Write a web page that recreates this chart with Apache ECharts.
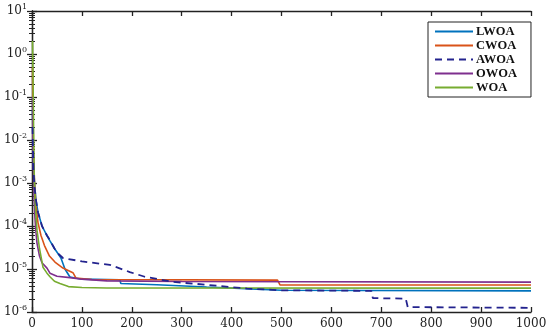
<!DOCTYPE html>
<html>
<head>
<meta charset="utf-8">
<script src="https://cdn.jsdelivr.net/npm/echarts@6/dist/echarts.min.js"></script>
<style>
  html, body { margin: 0; padding: 0; background: #fff; }
  #main { width: 550px; height: 335px; }
</style>
</head>
<body>
<div id="main"></div>
<script>
// convergence curves: [iteration, best fitness]
const names = ['LWOA', 'CWOA', 'AWOA', 'OWOA', 'WOA']
const colors = ['#0072BD', '#D95319', '#23238E', '#7E2F8E', '#77AC30']
const xTicks = [0, 100, 200, 300, 400, 500, 600, 700, 800, 900, 1000]

const lwoa = [[1, 0.05], [3, 3e-3], [5, 1e-3], [8, 4e-4], [12, 2.1e-4], [20, 1e-4], [30, 6e-5], [36, 4.5e-5],
  [45, 3e-5], [52, 2.3e-5], [58, 1.8e-5], [66, 1e-5], [76, 6.5e-6], [100, 5.8e-6], [176, 5.6e-6],
  [178, 4.6e-6], [250, 4.3e-6], [350, 3.8e-6], [450, 3.4e-6], [500, 3.2e-6], [1000, 3.1e-6]]
const cwoa = [[1, 0.5], [2, 0.05], [3, 5e-3], [5, 1e-3], [8, 3e-4], [12, 1.2e-4], [18, 6e-5], [25, 3.5e-5],
  [35, 2e-5], [46, 1.45e-5], [62, 1.05e-5], [82, 8.2e-6], [88, 6.2e-6], [120, 5.7e-6], [492, 5.5e-6],
  [497, 4.25e-6], [1000, 4.25e-6]]
const awoa = [[1, 0.02], [3, 2e-3], [5, 8e-4], [8, 4e-4], [12, 2.1e-4], [20, 1e-4], [30, 6e-5], [36, 4.7e-5],
  [45, 3e-5], [52, 2.3e-5], [62, 1.8e-5], [100, 1.5e-5], [156, 1.25e-5], [196, 8.5e-6], [226, 6.6e-6],
  [283, 5e-6], [350, 4.3e-6], [431, 3.5e-6], [500, 3.2e-6], [680, 3.1e-6], [683, 2.1e-6], [749, 2.05e-6],
  [753, 1.3e-6], [1000, 1.25e-6]]
const owoa = [[1, 0.1], [2, 1e-2], [3, 2e-3], [4, 5e-4], [6, 1.5e-4], [8, 7e-5], [10, 4e-5], [15, 2e-5],
  [20, 1.4e-5], [30, 1.05e-5], [36, 8e-6], [50, 6.8e-6], [76, 6.3e-6], [100, 5.8e-6], [150, 5.3e-6],
  [300, 5.1e-6], [1000, 4.95e-6]]
const woa = [[1, 2.0], [2, 0.3], [3, 0.03], [4, 3e-3], [5, 8e-4], [7, 2.5e-4], [10, 8e-5], [15, 3e-5],
  [22, 1.1e-5], [30, 8e-6], [36, 6.6e-6], [45, 5.2e-6], [56, 4.6e-6], [73, 3.9e-6], [100, 3.7e-6],
  [150, 3.62e-6], [1000, 3.6e-6]]
const curves = [lwoa, cwoa, awoa, owoa, woa]

const font = 'DejaVu Serif'
const myChart = echarts.init(document.getElementById('main'), null, { renderer: 'canvas' })

const axisLine = { show: true, lineStyle: { color: '#222', width: 1.3 } }
const tick = { show: true, inside: true, length: 5, lineStyle: { color: '#222', width: 1.3 } }

function powLabel (v) {
  const e = Math.round(Math.log10(v))
  return '{b|10}{s|' + e + '}'
}

myChart.setOption({
  backgroundColor: '#fff',
  animation: false,
  grid: { left: 32, right: 19, top: 11, bottom: 23 },
  legend: {
    orient: 'vertical',
    left: 428,
    top: 22,
    padding: [3, 14, 3, 6],
    itemGap: 1,
    itemWidth: 38,
    itemHeight: 10,
    borderColor: '#222',
    borderWidth: 1,
    backgroundColor: '#fff',
    itemStyle: { opacity: 0 },
    textStyle: { fontFamily: 'Liberation Serif', fontWeight: 'bold', fontSize: 12.5, color: '#111', padding: [0, 0, 0, -2] },
    data: names
  },
  xAxis: [{
    type: 'value',
    min: 0,
    max: 1000,
    interval: 100,
    axisLine: axisLine,
    axisTick: tick,
    splitLine: { show: false },
    axisLabel: {
      fontFamily: font,
      fontSize: 12,
      color: '#222',
      margin: 6,
      formatter: v => String(xTicks.find(t => t === v) ?? v)
    }
  }, {
    type: 'value',
    position: 'top',
    min: 0,
    max: 1000,
    interval: 100,
    axisLine: axisLine,
    axisTick: tick,
    splitLine: { show: false },
    axisLabel: { show: false }
  }],
  yAxis: [{
    type: 'log',
    logBase: 10,
    min: 1e-6,
    max: 10,
    axisLine: axisLine,
    axisTick: tick,
    minorTick: { show: true, splitNumber: 9, length: 3, lineStyle: { color: '#222', width: 1 } },
    splitLine: { show: false },
    axisLabel: {
      formatter: powLabel,
      margin: 5,
      rich: {
        b: { fontFamily: font, fontSize: 12, color: '#222' },
        s: { fontFamily: font, fontSize: 8, color: '#222', padding: [0, 0, 9, 0] }
      }
    }
  }, {
    type: 'log',
    logBase: 10,
    position: 'right',
    min: 1e-6,
    max: 10,
    axisLine: axisLine,
    axisTick: tick,
    minorTick: { show: true, splitNumber: 9, length: 3, lineStyle: { color: '#222', width: 1 } },
    splitLine: { show: false },
    axisLabel: { show: false }
  }],
  series: names.map((n, i) => ({
    name: n,
    type: 'line',
    symbol: 'none',
    data: curves[i],
    z: i === 2 ? 3 : 2,
    color: colors[i],
    lineStyle: { color: colors[i], width: i === 2 ? 1.8 : 1.6, type: i === 2 ? [7, 5] : 'solid' }
  }))
})
</script>
</body>
</html>
